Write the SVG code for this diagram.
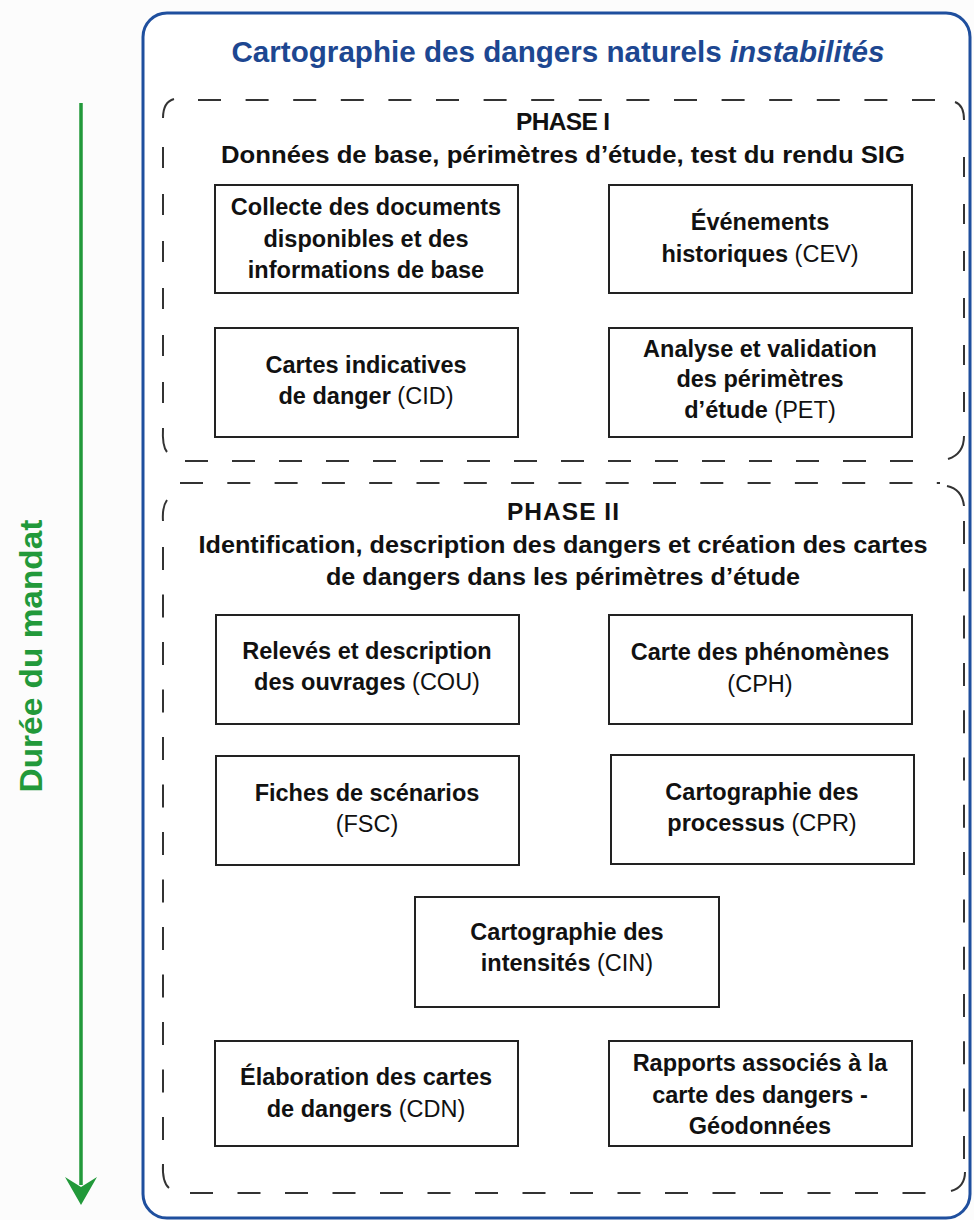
<svg xmlns="http://www.w3.org/2000/svg" width="974" height="1220" viewBox="0 0 974 1220">
<style>
.t{font-family:"Liberation Sans",Arial,sans-serif;font-size:23.5px;font-weight:700;fill:#111;text-anchor:middle}
.r{font-weight:400}
.h{font-family:"Liberation Sans",Arial,sans-serif;font-size:24.5px;font-weight:700;fill:#111;text-anchor:middle}
.box{fill:none;stroke:#222;stroke-width:2}
.dash{fill:none;stroke:#333;stroke-width:2}
.corner{fill:none;stroke:#333;stroke-width:2}
</style>
<defs>
<marker id="ah" markerWidth="10" markerHeight="10" refX="0" refY="0" orient="auto" markerUnits="userSpaceOnUse"/>
</defs>
<rect x="0" y="0" width="974" height="1220" fill="#fcfcfc"/>
<g id="outer">
<rect x="143" y="13" width="827" height="1205" rx="24" ry="24" fill="#ffffff" stroke="#1f4f9e" stroke-width="3"/>
<text x="558" y="62" font-family="'Liberation Sans',Arial,sans-serif" font-size="29" font-weight="700" fill="#1d4791" text-anchor="middle" textLength="653" lengthAdjust="spacingAndGlyphs">Cartographie des dangers naturels <tspan font-style="italic">instabilités</tspan></text>
</g>
<g id="duree">
<line x1="81" y1="103" x2="81" y2="1185" stroke="#22993a" stroke-width="3.5"/>
<path d="M65,1177 L81,1205 L97,1177 L81,1187 Z" fill="#22993a"/>
<text transform="translate(42,656) rotate(-90)" x="0" y="0" font-family="'Liberation Sans',Arial,sans-serif" font-size="31" font-weight="700" fill="#22993a" text-anchor="middle" textLength="273" lengthAdjust="spacingAndGlyphs">Durée du mandat</text>
</g>
<g id="phase1">
<path class="dash" d="M198,100 H936" stroke-dasharray="23 24.6"/>
<path class="dash" d="M185,461 H926" stroke-dasharray="23 24"/>
<path class="dash" d="M163,147 V410" stroke-dasharray="21 26"/>
<path class="dash" d="M964,157 V415" stroke-dasharray="20 27"/>
<path class="corner" d="M163,118 Q163,102 174,99"/>
<path class="corner" d="M955,102 Q964,105 964,120"/>
<path class="corner" d="M163,428 Q162,446 167,452"/>
<path class="corner" d="M964,436 Q964,454 948,459"/>
<text class="h" x="563" y="130" textLength="94">PHASE I</text>
<text class="h" x="563" y="163" textLength="684" lengthAdjust="spacingAndGlyphs">Données de base, périmètres d’étude, test du rendu SIG</text>
</g>
<g id="phase2">
<path class="dash" d="M180,483 H940" stroke-dasharray="23 24.3"/>
<path class="dash" d="M190,1193 H930" stroke-dasharray="23 24.5"/>
<path class="dash" d="M163,547 V1140" stroke-dasharray="23 24.5"/>
<path class="dash" d="M964,521 V1162" stroke-dasharray="23 24.3"/>
<path class="corner" d="M167,500 Q162,507 163,521"/>
<path class="corner" d="M947,486 Q962,489 964,506"/>
<path class="corner" d="M163,1164 Q162,1182 169,1188"/>
<path class="corner" d="M965,1172 Q965,1187 951,1191"/>
<text class="h" x="563" y="520" textLength="112">PHASE II</text>
<text class="h" x="563" y="553" textLength="729" lengthAdjust="spacingAndGlyphs">Identification, description des dangers et création des cartes</text>
<text class="h" x="563" y="585" textLength="474" lengthAdjust="spacingAndGlyphs">de dangers dans les périmètres d’étude</text>
</g>
<g id="collecte">
<rect class="box" x="215" y="185" width="303" height="108"/>
<text class="t" x="366" y="215">Collecte des documents</text>
<text class="t" x="366" y="247">disponibles et des</text>
<text class="t" x="366" y="278">informations de base</text>
</g>
<g id="cev">
<rect class="box" x="609" y="185" width="303" height="108"/>
<text class="t" x="760" y="230">Événements</text>
<text class="t" x="760" y="262">historiques <tspan class="r">(CEV)</tspan></text>
</g>
<g id="cid">
<rect class="box" x="215" y="328" width="303" height="109"/>
<text class="t" x="366" y="373">Cartes indicatives</text>
<text class="t" x="366" y="404">de danger <tspan class="r">(CID)</tspan></text>
</g>
<g id="pet">
<rect class="box" x="609" y="328" width="303" height="109"/>
<text class="t" x="760" y="357">Analyse et validation</text>
<text class="t" x="760" y="387">des périmètres</text>
<text class="t" x="760" y="418">d’étude <tspan class="r">(PET)</tspan></text>
</g>
<g id="cou">
<rect class="box" x="216" y="615" width="303" height="109"/>
<text class="t" x="367" y="659">Relevés et description</text>
<text class="t" x="367" y="690">des ouvrages <tspan class="r">(COU)</tspan></text>
</g>
<g id="cph">
<rect class="box" x="609" y="615" width="303" height="109"/>
<text class="t" x="760" y="660">Carte des phénomènes</text>
<text class="t r" x="760" y="692">(CPH)</text>
</g>
<g id="fsc">
<rect class="box" x="216" y="756" width="303" height="109"/>
<text class="t" x="367" y="801">Fiches de scénarios</text>
<text class="t r" x="367" y="832">(FSC)</text>
</g>
<g id="cpr">
<rect class="box" x="611" y="755" width="303" height="109"/>
<text class="t" x="762" y="800">Cartographie des</text>
<text class="t" x="762" y="831">processus <tspan class="r">(CPR)</tspan></text>
</g>
<g id="cin">
<rect class="box" x="415" y="897" width="304" height="110"/>
<text class="t" x="567" y="940">Cartographie des</text>
<text class="t" x="567" y="971">intensités <tspan class="r">(CIN)</tspan></text>
</g>
<g id="cdn">
<rect class="box" x="215" y="1041" width="303" height="105"/>
<text class="t" x="366" y="1085">Élaboration des cartes</text>
<text class="t" x="366" y="1117">de dangers <tspan class="r">(CDN)</tspan></text>
</g>
<g id="rapports">
<rect class="box" x="609" y="1041" width="303" height="105"/>
<text class="t" x="760" y="1071">Rapports associés à la</text>
<text class="t" x="760" y="1103">carte des dangers -</text>
<text class="t" x="760" y="1134">Géodonnées</text>
</g>
<g id="connectors"></g>
</svg>
